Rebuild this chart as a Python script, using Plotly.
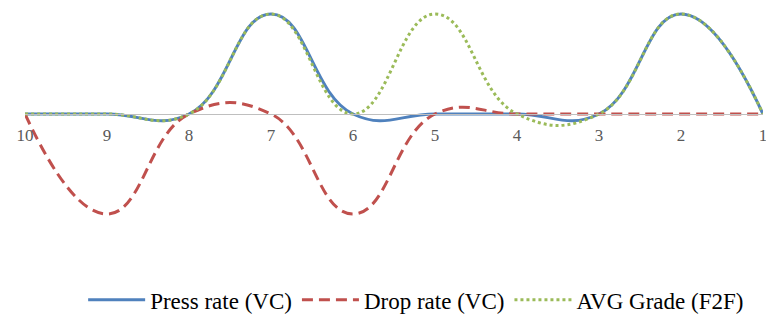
import plotly.graph_objects as go

categories = ["10", "9", "8", "7", "6", "5", "4", "3", "2", "1"]
press_rate = [0, 0, 0, 1, 0, 0, 0, 0, 1, 0]
drop_rate = [0, -1, 0, 0, -1, 0, 0, 0, 0, 0]
avg_grade = [0, 0, 0, 1, 0, 1, 0, 0, 1, 0]

fig = go.Figure()
fig.add_trace(go.Scatter(x=categories, y=press_rate, name="Press rate (VC)", mode="lines",
                         line=dict(color="#4F81BD", width=3, shape="spline", smoothing=1.3),
                         cliponaxis=False))
fig.add_trace(go.Scatter(x=categories, y=drop_rate, name="Drop rate (VC)", mode="lines",
                         line=dict(color="#C0504D", width=3, dash="11px,6px", shape="spline", smoothing=1.3),
                         cliponaxis=False))
fig.add_trace(go.Scatter(x=categories, y=avg_grade, name="AVG Grade (F2F)", mode="lines",
                         line=dict(color="#9BBB59", width=3, dash="3px,3px", shape="spline", smoothing=1.3),
                         cliponaxis=False))

fig.update_layout(
    width=766, height=320,
    margin=dict(l=25, r=3, t=4, b=96, autoexpand=False),
    plot_bgcolor="white", paper_bgcolor="white",
    font=dict(family="Liberation Serif", color="#595959"),
    showlegend=True,
    legend=dict(orientation="h", x=0.53, xanchor="center", y=-0.345, yanchor="middle",
                font=dict(family="Liberation Serif", size=23, color="#000000"),
                itemwidth=57, traceorder="normal"),
    xaxis=dict(type="category", range=[0, 9], anchor="free", position=0.5,
               showline=True, linecolor="#BFBFBF", linewidth=1, automargin=False,
               showgrid=False, zeroline=False, ticks="",
               tickfont=dict(family="Liberation Serif", size=17, color="#595959"),
               ticklabelstandoff=6),
    yaxis=dict(range=[-1.1, 1.1], visible=False, showgrid=False, zeroline=False, automargin=False),
)

fig.write_html("out.html")
